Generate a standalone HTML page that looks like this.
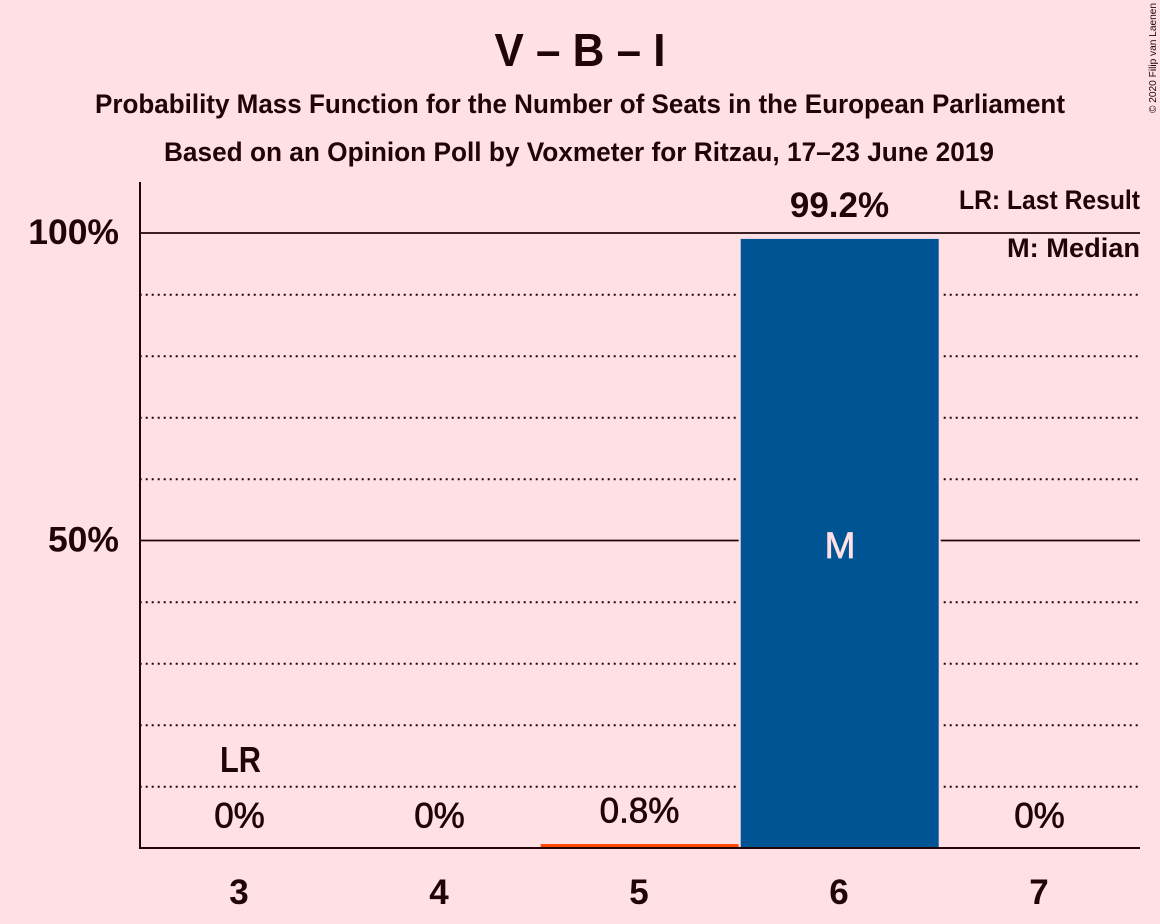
<!DOCTYPE html>
<html lang="en">
<head>
<meta charset="utf-8">
<title>V – B – I</title>
<style>
html,body{margin:0;padding:0;background:#ffe0e5;}
svg{display:block;}
text{font-family:"Liberation Sans",sans-serif;fill:#1f0509;}
.b{font-weight:bold;}
.m{stroke:#1f0509;stroke-width:0.7px;}
</style>
</head>
<body>
<svg id="chart" xmlns="http://www.w3.org/2000/svg" width="1160" height="924" viewBox="0 0 1160 924">
<rect x="0" y="0" width="1160" height="924" fill="#ffe0e5"/>
<g id="grid"></g>
<g id="bars"></g>
<g id="axes"></g>
<g id="labels"></g>
<text class="b" x="580" y="66" text-anchor="middle" font-size="46" textLength="171" lengthAdjust="spacingAndGlyphs">V – B – I</text>
<text class="b" x="580" y="113" text-anchor="middle" font-size="27" textLength="970" lengthAdjust="spacingAndGlyphs">Probability Mass Function for the Number of Seats in the European Parliament</text>
<text class="b" x="579" y="161" text-anchor="middle" font-size="27" textLength="830" lengthAdjust="spacingAndGlyphs">Based on an Opinion Poll by Voxmeter for Ritzau, 17–23 June 2019</text>
<text class="b" x="1140" y="209" text-anchor="end" font-size="27" textLength="181" lengthAdjust="spacingAndGlyphs">LR: Last Result</text>
<text class="b" x="1140" y="257" text-anchor="end" font-size="27" textLength="133" lengthAdjust="spacingAndGlyphs">M: Median</text>
<text transform="translate(1156,113) rotate(-90)" font-size="10" textLength="110" lengthAdjust="spacingAndGlyphs">© 2020 Filip van Laenen</text>
</svg>
<script>
var seats = [3, 4, 5, 6, 7];
var probabilities = [0, 0, 0.8, 99.2, 0];
var valueLabels = ["0%", "0%", "0.8%", "99.2%", "0%"];
var barColors = ["#ff4400", "#ff4400", "#ff4400", "#005494", "#ff4400"];
var yMajorTicks = [50, 100];
var yMinorTicks = [10, 20, 30, 40, 60, 70, 80, 90];
var yTickLabels = ["50%", "100%"];
var lastResultSeat = 3;
var medianSeat = 6;

var NS = "http://www.w3.org/2000/svg";
function xScale(seat) { return 240 + (seat - 3) * 200; }
function yScale(pct) { return 848 - pct * 6.15; }
function make(tag, attrs, parent, txt) {
  var el = document.createElementNS(NS, tag);
  for (var k in attrs) { el.setAttribute(k, attrs[k]); }
  if (txt !== undefined) { el.textContent = txt; }
  parent.appendChild(el);
  return el;
}
var gridG = document.getElementById("grid");
var barsG = document.getElementById("bars");
var axesG = document.getElementById("axes");
var labelsG = document.getElementById("labels");
var INK = "#1f0509";

yMinorTicks.forEach(function (t) {
  var y = yScale(t) + 0.2;
  var line = make("line", { x1: 139.7, x2: 1140, y1: y, y2: y, stroke: INK, "stroke-width": 2, "stroke-dasharray": "2 4" }, gridG);
  
  
});
yMajorTicks.forEach(function (t, i) {
  var y = yScale(t);
  var line = make("line", { x1: 140, x2: 1140, y1: y, y2: y, stroke: INK, "stroke-width": 1.8 }, gridG);
  
  
  var label = make("text", { x: 119, y: y + 11, "text-anchor": "end", "font-size": 35.5, "class": "b" }, axesG, yTickLabels[i]);
  
  
});

seats.forEach(function (seat, i) {
  var cx = xScale(seat);
  var top = yScale(probabilities[i]);
  var h = 848 - top;
  if (h > 0) {
    var halo = make("rect", { x: cx - 99.3, y: top + 1, width: 198, height: h - 1, fill: "#ffe0e5", stroke: "#ffe0e5", "stroke-width": 4 }, barsG);
    
    
    var bar = make("rect", { x: cx - 99.3, y: top + 1, width: 198, height: h - 1, fill: barColors[i] }, barsG);
    
    
  }
  var vLabel = make("text", { x: cx - 0.5, y: top - 20.7, "text-anchor": "middle", "font-size": 35, "class": seat === medianSeat ? "b" : "m" }, labelsG, valueLabels[i]);
  
  
  var xLabel = make("text", { x: cx - 1, y: 904, "text-anchor": "middle", "font-size": 35, "class": "b" }, axesG, String(seat));
  
  
  if (seat === lastResultSeat) {
    var lr = make("text", { x: cx + 0.5, y: top - 76, "text-anchor": "middle", "font-size": 36, "class": "b", textLength: 41, lengthAdjust: "spacingAndGlyphs" }, labelsG, "LR");
    
    
  }
  if (seat === medianSeat) {
    var m = make("text", { x: cx, y: top + h / 2 + 15, "text-anchor": "middle", "font-size": 37, style: "fill:#ffe0e5;stroke:#ffe0e5;stroke-width:0.7px" }, labelsG, "M");
    
    
  }
});

var yAxis = make("line", { x1: 140, x2: 140, y1: 182, y2: 849, stroke: INK, "stroke-width": 2 }, axesG);


var xAxis = make("line", { x1: 139, x2: 1140, y1: 848, y2: 848, stroke: INK, "stroke-width": 2 }, axesG);


</script>
</body>
</html>
